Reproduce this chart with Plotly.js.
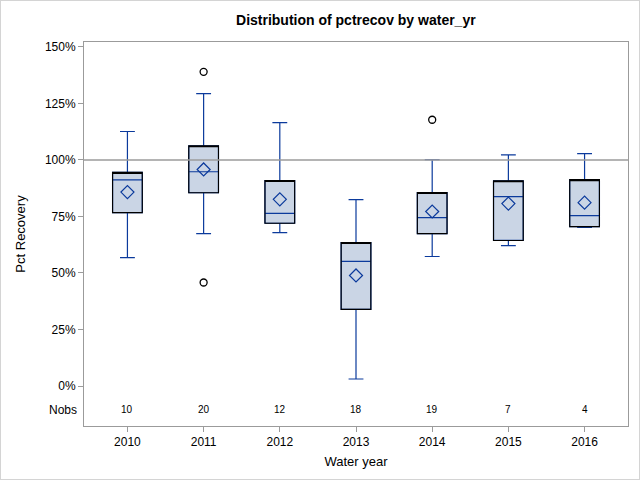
<!DOCTYPE html>
<html>
<head>
<meta charset="utf-8">
<script src="https://cdn.plot.ly/plotly-3.0.1.min.js"></script>
<style>
html,body{margin:0;padding:0;background:#fff;}
#wrap{position:relative;width:640px;height:480px;}
#chart{width:640px;height:480px;}
#frame{position:absolute;left:0;top:0;width:640px;height:480px;box-sizing:border-box;border:1px solid #d4d4d4;pointer-events:none;}
</style>
</head>
<body>
<div id="wrap"><div id="chart"></div><div id="frame"></div></div>
<script>
const years = ['2010','2011','2012','2013','2014','2015','2016'];
const q1 = [76.7, 85.5, 72.0, 33.9, 67.4, 64.4, 70.5];
const medians = [91.2, 94.8, 76.4, 55.1, 74.5, 83.8, 75.4];
const q3 = [94.5, 106.3, 90.9, 63.5, 85.6, 90.8, 91.3];
const lowerWhisker = [56.8, 67.4, 67.9, 3.1, 57.3, 62.1, 70.2];
const upperWhisker = [112.6, 129.4, 116.5, 82.5, 100.1, 102.3, 102.8];
const means = [85.8, 95.8, 82.6, 48.9, 77.2, 80.7, 81.1];
const nobs = [10, 20, 12, 18, 19, 7, 4];
const outlierYears = ['2011', '2011', '2014'];
const outlierValues = [139.0, 45.8, 117.8];
const refValue = 100;
const nobsRowY = -10.6;
const yTicks = [0, 25, 50, 75, 100, 125, 150];

const blue = '#0b3a9c';
const fill = '#cad5e5';
const grey = '#9b9b9b';
const font = 'Liberation Sans, Arial, sans-serif';

const traces = [
  {
    type: 'box', x: years, q1: q1, median: medians, q3: q3,
    lowerfence: lowerWhisker, upperfence: upperWhisker,
    width: 0.39, whiskerwidth: 0.5,
    fillcolor: fill, line: {color: blue, width: 1.2},
    boxpoints: false, showlegend: false, hoverinfo: 'skip'
  },
  {
    type: 'box', x: years, q1: q1, median: q3, q3: q3,
    lowerfence: q1, upperfence: q3,
    width: 0.39, whiskerwidth: 0.5,
    fillcolor: 'rgba(0,0,0,0)', line: {color: '#000', width: 1.1},
    boxpoints: false, showlegend: false, hoverinfo: 'skip'
  },
  {
    type: 'scatter', mode: 'markers', x: years, y: means,
    marker: {symbol: 'diamond-open', size: 10, color: blue, line: {width: 1.2, color: blue}},
    showlegend: false, hoverinfo: 'skip'
  },
  {
    type: 'scatter', mode: 'markers', x: outlierYears, y: outlierValues,
    marker: {symbol: 'circle-open', size: 7, color: '#000', line: {width: 1.3, color: '#000'}},
    showlegend: false, hoverinfo: 'skip'
  }
];

const annotations = years.map((yr, i) => ({
  x: i, y: nobsRowY, xref: 'x', yref: 'y', text: String(nobs[i]),
  showarrow: false, font: {family: font, size: 10, color: '#000'}
}));
annotations.push({
  x: 0, y: nobsRowY, xref: 'paper', yref: 'y', text: 'Nobs', xanchor: 'right',
  xshift: -5, showarrow: false, font: {family: font, size: 12, color: '#000'}
});

const layout = {
  width: 640, height: 480,
  margin: {l: 84, r: 12, t: 42, b: 54},
  paper_bgcolor: '#fff', plot_bgcolor: '#fff',
  font: {family: font, size: 12, color: '#000'},
  title: {text: '<b>Distribution of pctrecov by water_yr</b>', x: 0.556, xanchor: 'center', y: 0.958, yanchor: 'middle',
          font: {family: font, size: 14, color: '#000'}},
  xaxis: {
    type: 'category', range: [-0.57, 6.57],
    showline: true, mirror: true, linecolor: grey, linewidth: 1,
    ticks: 'outside', ticklen: 5, tickcolor: grey, showgrid: false, zeroline: false,
    tickfont: {family: font, size: 12, color: '#000'},
    title: {text: 'Water year', font: {family: font, size: 13, color: '#000'}, standoff: 8}
  },
  yaxis: {
    range: [-17.7, 152.2], tickvals: yTicks, ticktext: yTicks.map(v => v + '%'),
    showline: true, mirror: true, linecolor: grey, linewidth: 1,
    ticks: 'outside', ticklen: 5, tickcolor: grey, showgrid: false, zeroline: false,
    tickfont: {family: font, size: 12, color: '#000'},
    title: {text: 'Pct Recovery', font: {family: font, size: 13, color: '#000'}, standoff: 16}
  },
  shapes: [{type: 'line', xref: 'paper', x0: 0, x1: 1, yref: 'y', y0: refValue, y1: refValue,
            line: {color: grey, width: 1.3}}],
  annotations: annotations
};

Plotly.newPlot('chart', traces, layout, {displayModeBar: false, staticPlot: true});
</script>
</body>
</html>
